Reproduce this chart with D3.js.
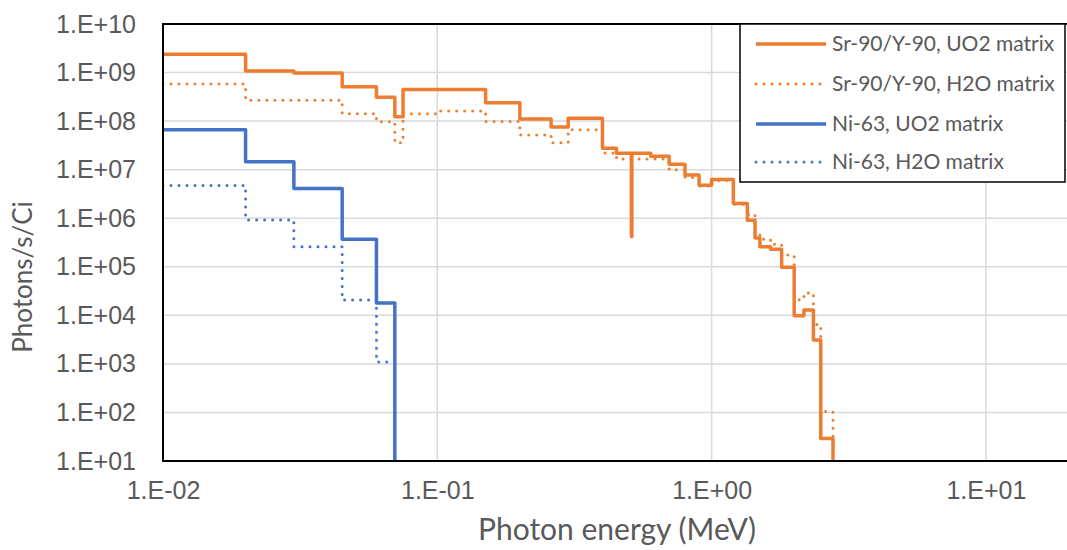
<!DOCTYPE html>
<html>
<head>
<meta charset="utf-8">
<script src="https://cdn.jsdelivr.net/npm/d3@7"></script>
<style>
  body { margin: 0; background: #fff; }
  svg { display: block; font-family: Lato, "Open Sans", sans-serif; }
  .grid line { stroke: #d9d9d9; stroke-width: 1.5; }
  .tick-label { fill: #595959; font-size: 25px; }
</style>
</head>
<body>
<div id="chart"></div>
<script>
// bin edges (MeV) and photon yields (photons/s/Ci); the value at the last edge is where the line ends
var srEdges = [0.01, 0.02, 0.03, 0.045, 0.06, 0.07, 0.075, 0.1, 0.15, 0.2, 0.26, 0.3, 0.4, 0.45, 0.51, 0.512,
               0.6, 0.7, 0.8, 0.9, 1.0, 1.2, 1.35, 1.44, 1.5, 1.64, 1.8, 2.0, 2.17, 2.35, 2.5, 2.77];
var srUO2 = [2.38e9, 1.08e9, 9.8e8, 5.1e8, 3.1e8, 1.23e8, 4.5e8, 4.5e8, 2.4e8, 1.1e8, 7.6e7, 1.14e8, 2.75e7, 2.17e7, 4.2e5, 2.17e7,
             1.9e7, 1.29e7, 7.8e6, 4.8e6, 6.3e6, 2.0e6, 9.1e5, 3.9e5, 2.6e5, 2.3e5, 9.8e4, 9.8e3, 1.29e4, 3.1e3, 29, 1];

var srH2OEdges = [0.01, 0.02, 0.03, 0.045, 0.06, 0.07, 0.075, 0.1, 0.15, 0.2, 0.26, 0.3, 0.4, 0.45,
                  0.6, 0.7, 0.8, 0.9, 1.0, 1.2, 1.35, 1.44, 1.5, 1.64, 1.8, 2.0, 2.17, 2.35, 2.5, 2.77, 2.9];
var srH2O = [5.8e8, 2.7e8, 2.7e8, 1.42e8, 9.7e7, 3.6e7, 1.42e8, 1.62e8, 9.8e7, 5.2e7, 3.6e7, 6.6e7, 2.2e7, 1.66e7,
             1.66e7, 1.0e7, 6.9e6, 4.6e6, 6.0e6, 1.95e6, 1.2e6, 5.0e5, 3.7e5, 2.9e5, 1.74e5, 2.1e4, 2.9e4, 6.5e3, 104, 22, 22];

var niEdges = [0.01, 0.02, 0.03, 0.045, 0.06, 0.07];
var niUO2 = [6.6e7, 1.46e7, 4.1e6, 3.7e5, 1.8e4, 1];

var niH2OEdges = [0.01, 0.02, 0.03, 0.045, 0.06, 0.066];
var niH2O = [4.7e6, 9.2e5, 2.6e5, 2.07e4, 1.1e3, 1.1e3];

var xTicks = [0.01, 0.1, 1, 10];
var yTicks = [1e1, 1e2, 1e3, 1e4, 1e5, 1e6, 1e7, 1e8, 1e9, 1e10];

var series = [
  {name: "Sr-90/Y-90, UO2 matrix", x: srEdges, y: srUO2, color: "#ed7d31", dotted: false},
  {name: "Sr-90/Y-90, H2O matrix", x: srH2OEdges, y: srH2O, color: "#ed7d31", dotted: true},
  {name: "Ni-63, UO2 matrix", x: niEdges, y: niUO2, color: "#4472c4", dotted: false},
  {name: "Ni-63, H2O matrix", x: niH2OEdges, y: niH2O, color: "#4472c4", dotted: true}
];

var width = 1067, height = 550;
var plotLeft = 163, plotTop = 24, plotBottom = 461, plotRight = 1068.5;

var x = d3.scaleLog().domain([0.01, 20]).range([plotLeft, plotRight]);
var y = d3.scaleLog().domain([1e1, 1e10]).range([plotBottom, plotTop]);

function sci(v) {
  var e = Math.round(Math.log10(v));
  return "1.E" + (e < 0 ? "-" : "+") + d3.format("02d")(Math.abs(e));
}

var svg = d3.select("#chart").append("svg")
    .attr("width", width)
    .attr("height", height);

svg.append("clipPath").attr("id", "plot-clip")
  .append("rect")
    .attr("x", plotLeft).attr("y", plotTop)
    .attr("width", plotRight - plotLeft).attr("height", plotBottom - plotTop);

// gridlines
var grid = svg.append("g").attr("class", "grid");
grid.selectAll(".hy").data(yTicks).enter().append("line")
    .attr("x1", plotLeft).attr("x2", plotRight)
    .attr("y1", d => y(d)).attr("y2", d => y(d));
grid.selectAll(".vx").data(xTicks).enter().append("line")
    .attr("x1", d => x(d)).attr("x2", d => x(d))
    .attr("y1", plotTop).attr("y2", plotBottom);

// step lines
var line = d3.line()
    .x(d => x(d[0]))
    .y(d => y(d[1]))
    .curve(d3.curveStepAfter);

function lineStyle(sel) {
  sel.attr("stroke", d => d.color)
    .attr("stroke-width", d => d.dotted ? 3 : 3.5)
    .attr("stroke-dasharray", d => d.dotted ? "0 8" : null)
    .attr("stroke-linecap", d => d.dotted ? "round" : "butt");
}

svg.append("g").attr("clip-path", "url(#plot-clip)")
  .selectAll("path").data(series).enter().append("path")
    .attr("d", s => line(s.x.map((e, i) => [e, s.y[i]])))
    .attr("fill", "none")
    .call(lineStyle)
    .attr("stroke-linejoin", "round");

// plot border
svg.append("rect")
    .attr("x", plotLeft).attr("y", plotTop)
    .attr("width", plotRight - plotLeft).attr("height", plotBottom - plotTop)
    .attr("fill", "none")
    .attr("stroke", "#000")
    .attr("stroke-width", 2);

// axes
var xAxis = d3.axisBottom(x).tickValues(xTicks).tickFormat(sci).tickSize(0).tickPadding(20);
var yAxis = d3.axisLeft(y).tickValues(yTicks).tickFormat(sci).tickSize(0).tickPadding(27);

svg.append("g")
    .attr("transform", "translate(0," + plotBottom + ")")
    .call(xAxis)
    .call(g => g.select(".domain").remove())
    .selectAll("text").attr("class", "tick-label");

svg.append("g")
    .attr("transform", "translate(" + plotLeft + ",0)")
    .call(yAxis)
    .call(g => g.select(".domain").remove())
    .selectAll("text").attr("class", "tick-label");

svg.append("text")
    .attr("x", 617).attr("y", 540)
    .attr("text-anchor", "middle")
    .attr("fill", "#595959")
    .attr("font-size", 30)
    .text("Photon energy (MeV)");

svg.append("text")
    .attr("transform", "translate(32,277) rotate(-90)")
    .attr("text-anchor", "middle")
    .attr("fill", "#595959")
    .attr("font-size", 26)
    .text("Photons/s/Ci");

// legend
var legend = svg.append("g").attr("transform", "translate(740,24)");
legend.append("rect")
    .attr("width", 325).attr("height", 158)
    .attr("fill", "#fff")
    .attr("stroke", "#000")
    .attr("stroke-width", 1.5);

var rowY = [20, 60, 100, 138];
var item = legend.selectAll(".item").data(series).enter().append("g")
    .attr("transform", (d, i) => "translate(0," + rowY[i] + ")");
item.append("line")
    .attr("x1", 16).attr("x2", 86)
    .call(lineStyle);
item.append("text")
    .attr("x", 92).attr("dy", "0.35em")
    .attr("fill", "#595959")
    .attr("font-size", 21)
    .text(d => d.name);
</script>
</body>
</html>
